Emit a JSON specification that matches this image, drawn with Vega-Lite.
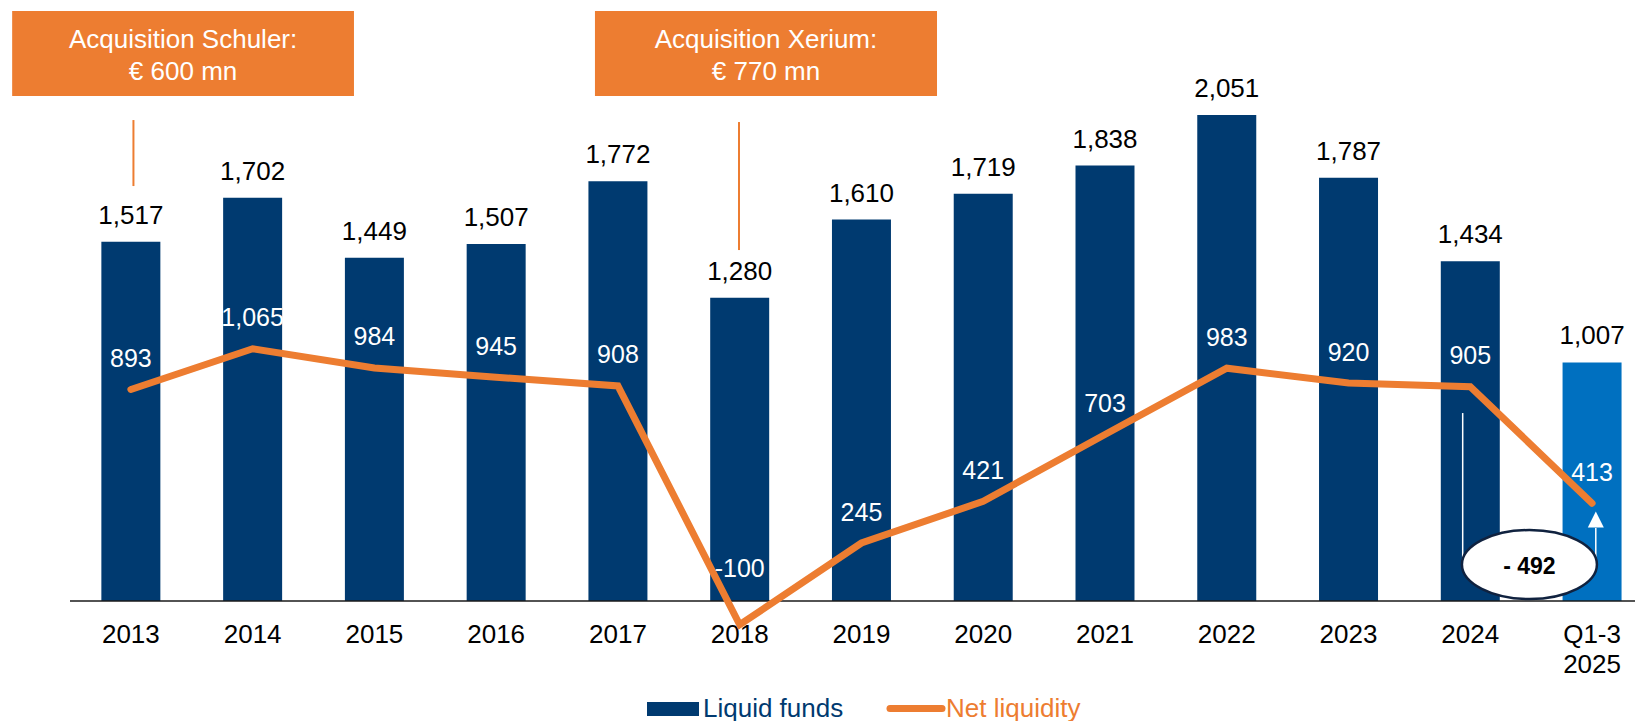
{
  "$schema": "https://vega.github.io/schema/vega-lite/v6.json",
  "width": 1565,
  "height": 616,
  "autosize": {"type": "none"},
  "padding": {"left": 70, "top": 4, "right": 0, "bottom": 101},
  "background": "white",
  "config": {"view": {"stroke": null}, "font": "Liberation Sans"},
  "datasets": {
    "funds": [
      {"year": "2013", "liquid": 1517, "net": 893, "netLabel": "893"},
      {"year": "2014", "liquid": 1702, "net": 1065, "netLabel": "1,065"},
      {"year": "2015", "liquid": 1449, "net": 984, "netLabel": "984"},
      {"year": "2016", "liquid": 1507, "net": 945, "netLabel": "945"},
      {"year": "2017", "liquid": 1772, "net": 908, "netLabel": "908"},
      {"year": "2018", "liquid": 1280, "net": -100, "netLabel": "-100"},
      {"year": "2019", "liquid": 1610, "net": 245, "netLabel": "245"},
      {"year": "2020", "liquid": 1719, "net": 421, "netLabel": "421"},
      {"year": "2021", "liquid": 1838, "net": 703, "netLabel": "703"},
      {"year": "2022", "liquid": 2051, "net": 983, "netLabel": "983"},
      {"year": "2023", "liquid": 1787, "net": 920, "netLabel": "920"},
      {"year": "2024", "liquid": 1434, "net": 905, "netLabel": "905"},
      {"year": "Q1-3 2025", "liquid": 1007, "net": 413, "netLabel": "413"}
    ],
    "boxes": [
      {"label": "Acquisition Schuler:\n€ 600 mn", "x1": -0.975, "x2": 1.832, "y1": 2131.5, "y2": 2490.3, "xc": 0.4285, "yc": 2367},
      {"label": "Acquisition Xerium:\n€ 770 mn", "x1": 3.811, "x2": 6.62, "y1": 2131.5, "y2": 2490.3, "xc": 5.2155, "yc": 2367}
    ],
    "connectors": [
      {"x": 0.021, "y1": 1751.6, "y2": 2030.2},
      {"x": 4.994, "y1": 1481.5, "y2": 2021.8}
    ],
    "bracket": [
      {"x": 10.937, "y1": 156, "y2": 793.5},
      {"x": 12.03, "y1": 156, "y2": 308}
    ],
    "ellipse": [{"x": 11.485, "y": 154, "label": "- 492"}],
    "arrow": [{"x": 12.03, "y": 344}]
  },
  "layer": [
    {
      "data": {"name": "funds"},
      "layer": [
        {
          "mark": {"type": "bar"},
          "encoding": {
            "x": {
              "field": "year", "type": "nominal", "sort": null, "title": null,
              "scale": {"paddingInner": 0.5155, "paddingOuter": 0.184, "align": 0.7},
              "axis": {
                "title": null, "domain": false, "ticks": false, "tickSize": 0, "grid": false,
                "labelFontSize": 26, "labelColor": "#000000", "labelFont": "Liberation Sans",
                "labelPadding": 1.5, "labelAngle": 0, "labelBaseline": "top", "labelLineHeight": 30,
                "labelOverlap": false, "labelLimit": 300,
                "labelExpr": "datum.value === 'Q1-3 2025' ? ['Q1-3', '2025'] : datum.label"
              }
            },
            "y": {"field": "liquid", "type": "quantitative", "scale": {"domain": [-80, 2520], "nice": false, "zero": false}, "axis": null},
            "y2": {"datum": 0},
            "color": {
              "datum": "Liquid funds", "type": "nominal",
              "condition": {"test": "datum.year === 'Q1-3 2025'", "value": "#0070C0"},
              "scale": {"domain": ["Liquid funds", "Net liquidity"], "range": ["#003A70", "#ED7D31"]},
              "legend": {
                "orient": "none", "legendX": 590, "legendY": 691.5, "direction": "horizontal", "title": null,
                "symbolSize": 2704, "symbolStrokeWidth": 0, "labelFontSize": 26, "labelFont": "Liberation Sans",
                "labelOffset": 17, "columnPadding": 32, "padding": 0, "labelLimit": 400,
                "encode": {
                  "symbols": {"update": {
                    "size": {"value": 2704},
                    "shape": {"signal": "datum.value === 'Liquid funds' ? 'M-1,-0.27H1V0.27H-1Z' : 'M-1,0H1'"},
                    "fill": {"signal": "datum.value === 'Liquid funds' ? '#003A70' : 'transparent'"},
                    "stroke": {"signal": "datum.value === 'Liquid funds' ? '#003A70' : '#ED7D31'"},
                    "strokeWidth": {"signal": "datum.value === 'Liquid funds' ? 0 : 7"},
                    "strokeCap": {"value": "round"},
                    "opacity": {"value": 1}
                  }},
                  "labels": {"update": {"fill": {"signal": "datum.value === 'Liquid funds' ? '#003A70' : '#ED7D31'"}}}
                }
              }
            }
          }
        },
        {
          "data": {"values": [{}]},
          "mark": {"type": "rule", "color": "#1a1a1a", "strokeWidth": 1.5},
          "encoding": {"y": {"datum": 0, "type": "quantitative", "scale": {"domain": [-80, 2520], "nice": false, "zero": false}}}
        },
        {
          "mark": {"type": "line", "strokeWidth": 7, "strokeCap": "round", "strokeJoin": "miter"},
          "encoding": {
            "x": {"field": "year", "type": "nominal", "sort": null},
            "y": {"field": "net", "type": "quantitative", "scale": {"domain": [-80, 2520], "nice": false, "zero": false}},
            "color": {"datum": "Net liquidity", "type": "nominal"}
          }
        },
        {
          "mark": {"type": "text", "color": "#ffffff", "fontSize": 25, "baseline": "middle", "align": "center", "dy": {"expr": "datum.net < 0 ? -55.5 : -30.5"}},
          "encoding": {
            "x": {"field": "year", "type": "nominal", "sort": null},
            "y": {"field": "net", "type": "quantitative", "scale": {"domain": [-80, 2520], "nice": false, "zero": false}},
            "text": {"field": "netLabel", "type": "nominal"}
          }
        },
        {
          "mark": {"type": "text", "color": "#000000", "fontSize": 26, "baseline": "middle", "align": "center", "dy": -26},
          "encoding": {
            "x": {"field": "year", "type": "nominal", "sort": null},
            "y": {"field": "liquid", "type": "quantitative", "scale": {"domain": [-80, 2520], "nice": false, "zero": false}},
            "text": {"field": "liquid", "type": "quantitative", "format": ","}
          }
        }
      ]
    },
    {
      "layer": [
        {
          "data": {"name": "boxes"},
          "mark": {"type": "rect", "color": "#ED7D31"},
          "encoding": {
            "x": {"field": "x1", "type": "quantitative", "scale": {"domain": [-0.5, 12.352], "nice": false, "zero": false}, "axis": null},
            "x2": {"field": "x2"},
            "y": {"field": "y1", "type": "quantitative", "scale": {"domain": [-80, 2520], "nice": false, "zero": false}, "axis": null},
            "y2": {"field": "y2"}
          }
        },
        {
          "data": {"name": "boxes"},
          "mark": {"type": "text", "color": "#ffffff", "fontSize": 26, "baseline": "middle", "align": "center", "lineBreak": "\n", "lineHeight": 32},
          "encoding": {
            "x": {"field": "xc", "type": "quantitative"},
            "y": {"field": "yc", "type": "quantitative"},
            "text": {"field": "label", "type": "nominal"}
          }
        },
        {
          "data": {"name": "connectors"},
          "mark": {"type": "rule", "color": "#ED7D31", "strokeWidth": 2},
          "encoding": {
            "x": {"field": "x", "type": "quantitative"},
            "y": {"field": "y1", "type": "quantitative"},
            "y2": {"field": "y2"}
          }
        },
        {
          "data": {"name": "bracket"},
          "mark": {"type": "rule", "color": "#ffffff", "strokeWidth": 1.5},
          "encoding": {
            "x": {"field": "x", "type": "quantitative"},
            "y": {"field": "y1", "type": "quantitative"},
            "y2": {"field": "y2"}
          }
        },
        {
          "data": {"name": "arrow"},
          "mark": {"type": "point", "shape": "M0,-1L1,1L-1,1Z", "size": 256, "filled": true, "color": "#ffffff", "opacity": 1, "strokeWidth": 0},
          "encoding": {
            "x": {"field": "x", "type": "quantitative"},
            "y": {"field": "y", "type": "quantitative"}
          }
        },
        {
          "data": {"name": "ellipse"},
          "mark": {"type": "point", "shape": "M-1,0C-1,-0.28,-0.552,-0.511,0,-0.511C0.552,-0.511,1,-0.28,1,0C1,0.28,0.552,0.511,0,0.511C-0.552,0.511,-1,0.28,-1,0Z", "size": 18225, "filled": true, "fill": "#ffffff", "stroke": "#10223F", "strokeWidth": 2.5, "opacity": 1, "fillOpacity": 1, "strokeOpacity": 1},
          "encoding": {
            "x": {"field": "x", "type": "quantitative"},
            "y": {"field": "y", "type": "quantitative"}
          }
        },
        {
          "data": {"name": "ellipse"},
          "mark": {"type": "text", "color": "#000000", "fontSize": 23, "fontWeight": "bold", "baseline": "middle", "align": "center", "dy": 2},
          "encoding": {
            "x": {"field": "x", "type": "quantitative"},
            "y": {"field": "y", "type": "quantitative"},
            "text": {"field": "label", "type": "nominal"}
          }
        }
      ]
    }
  ],
  "resolve": {"scale": {"x": "independent"}}
}
